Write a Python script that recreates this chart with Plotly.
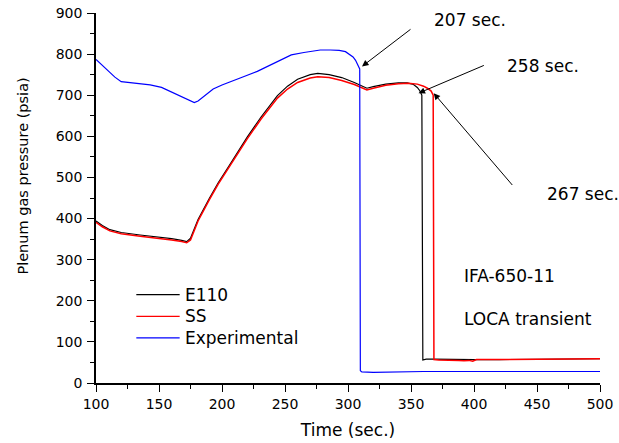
import plotly.graph_objects as go

# Simulated plenum pressure, E110 cladding model
time_e110 = [100, 105, 111, 120, 135, 150, 160, 168, 172, 175, 181, 190, 197, 205, 210, 220, 231, 244,
             252, 260, 270, 276, 285, 295, 305, 310, 315, 320, 330, 340, 347, 352, 355, 357, 358.6,
             359.4, 362, 367, 380, 400, 420, 450, 480, 500]
pressure_e110 = [394, 383, 373, 366, 360, 355, 351, 347, 344, 352, 398, 449, 487, 525, 550, 598, 647, 699,
                 722, 739, 750, 753, 750, 743, 731, 724, 717, 721, 727, 730, 730, 726, 719, 711, 700,
                 56, 58, 58, 57, 57, 57, 58, 58, 59]

# Simulated plenum pressure, SS cladding model
time_ss = [100, 105, 111, 120, 135, 150, 160, 168, 172, 175, 181, 190, 197, 205, 210, 220, 231, 244,
           252, 260, 270, 276, 285, 295, 305, 310, 315, 320, 330, 340, 348, 355, 360, 363, 366,
           367.6, 368.2, 372, 380, 388, 392, 396, 399, 402, 420, 450, 480, 500]
pressure_ss = [391, 380, 370, 363, 357, 352, 348, 344, 341, 348, 394, 446, 484, 522, 547, 594, 642, 693,
               715, 731, 742, 745, 743, 736, 726, 720, 713, 717, 724, 728, 729, 727, 722, 717, 710,
               700, 57, 56, 56, 55, 54, 55, 53, 57, 57, 58, 58, 59]

# Measured plenum pressure
time_exp = [100, 105, 111, 115, 120, 130, 143, 152, 159, 167, 175, 178, 181, 187, 193, 200, 207, 217,
            228, 236, 244, 255, 265, 270, 278, 286, 293, 298, 301, 304, 306, 308, 309.3, 309.8,
            311, 320, 335, 360, 400, 450, 500]
pressure_exp = [787, 772, 754, 744, 733, 729, 725, 719, 709, 697, 685, 682, 686, 701, 715, 725, 734, 745,
                758, 770, 783, 798, 804, 807, 810, 810, 809, 806, 800, 793, 785, 773, 764, 30,
                27, 26, 27, 28, 28, 28, 28]

series_names = ["E110", "SS", "Experimental"]
series_colors = ["#000000", "#ff0000", "#0000ff"]
series_widths = [1.2, 1.5, 1.2]
series_time = [time_e110, time_ss, time_exp]
series_pressure = [pressure_e110, pressure_ss, pressure_exp]

FONT = "DejaVu Sans"
BLACK = "#000000"

fig = go.Figure()
for name, t, p, color, w in zip(series_names, series_time, series_pressure, series_colors, series_widths):
    fig.add_trace(go.Scatter(x=t, y=p, mode="lines", name=name, showlegend=False,
                             line=dict(color=color, width=w)))

# Key drawn inside the plot area: sample line + label per series (paper coordinates)
key_rows_y = [0.239, 0.180, 0.122]
for name, color, ky in zip(series_names, series_colors, key_rows_y):
    fig.add_shape(type="line", xref="paper", yref="paper", x0=0.080, x1=0.166, y0=ky, y1=ky,
                  line=dict(color=color, width=1.2))
    fig.add_annotation(x=0.172, y=ky, xref="paper", yref="paper", text=name, showarrow=False,
                       xanchor="left", yanchor="middle",
                       font=dict(family=FONT, size=17, color=BLACK))

# Failure-time call-outs: (label, arrow head, arrow tail, label anchor)
callouts = [
    ("207 sec.", (311.1, 770), (350.8, 863), (366.5, 884)),
    ("258 sec.", (356.0, 705), (409.0, 774), (424.6, 770)),
    ("267 sec.", (368.0, 705), (431.4, 478), (456.0, 460)),
]
for label, head, tail, pos in callouts:
    fig.add_annotation(x=head[0], y=head[1], ax=tail[0], ay=tail[1],
                       xref="x", yref="y", axref="x", ayref="y", text="",
                       showarrow=True, arrowhead=2, arrowsize=1.3, arrowwidth=1,
                       arrowcolor=BLACK, standoff=0)
    fig.add_annotation(x=pos[0], y=pos[1], xref="x", yref="y", text=label,
                       showarrow=False, xanchor="left", yanchor="middle",
                       font=dict(family=FONT, size=17, color=BLACK))

for text, y in [("IFA-650-11", 259.5), ("LOCA transient", 156)]:
    fig.add_annotation(x=390.4, y=y, xref="x", yref="y", text=text,
                       showarrow=False, xanchor="left", yanchor="middle",
                       font=dict(family=FONT, size=17, color=BLACK))

# Y-axis title, placed a little above the axis centre
fig.add_annotation(x=-0.144, y=0.559, xref="paper", yref="paper",
                   text="Plenum gas pressure (psia)", textangle=-90, showarrow=False,
                   xanchor="center", yanchor="middle",
                   font=dict(family=FONT, size=14.5, color=BLACK))

axis_common = dict(
    showgrid=False, zeroline=False, showline=True, linecolor=BLACK, linewidth=1.5,
    ticks="outside", ticklen=7, tickwidth=1.2, tickcolor=BLACK,
    tickfont=dict(family=FONT, size=14, color=BLACK),
    mirror=False,
)

fig.update_xaxes(range=[100, 500], tick0=100, dtick=50,
                 minor=dict(ticks="outside", ticklen=4, tickwidth=1.2, tickcolor=BLACK, dtick=25),
                 title=dict(text="Time (sec.)", font=dict(family=FONT, size=17, color=BLACK),
                            standoff=14),
                 **axis_common)
fig.update_yaxes(range=[0, 900], tick0=0, dtick=100, ticklabelstandoff=2,
                 minor=dict(ticks="outside", ticklen=4, tickwidth=1.2, tickcolor=BLACK, dtick=50),
                 **axis_common)

fig.update_layout(
    width=619, height=443,
    margin=dict(l=96, r=19, t=13, b=60, autoexpand=False),
    paper_bgcolor="#ffffff", plot_bgcolor="#ffffff",
    showlegend=False,
)

fig.write_html("out.html")
